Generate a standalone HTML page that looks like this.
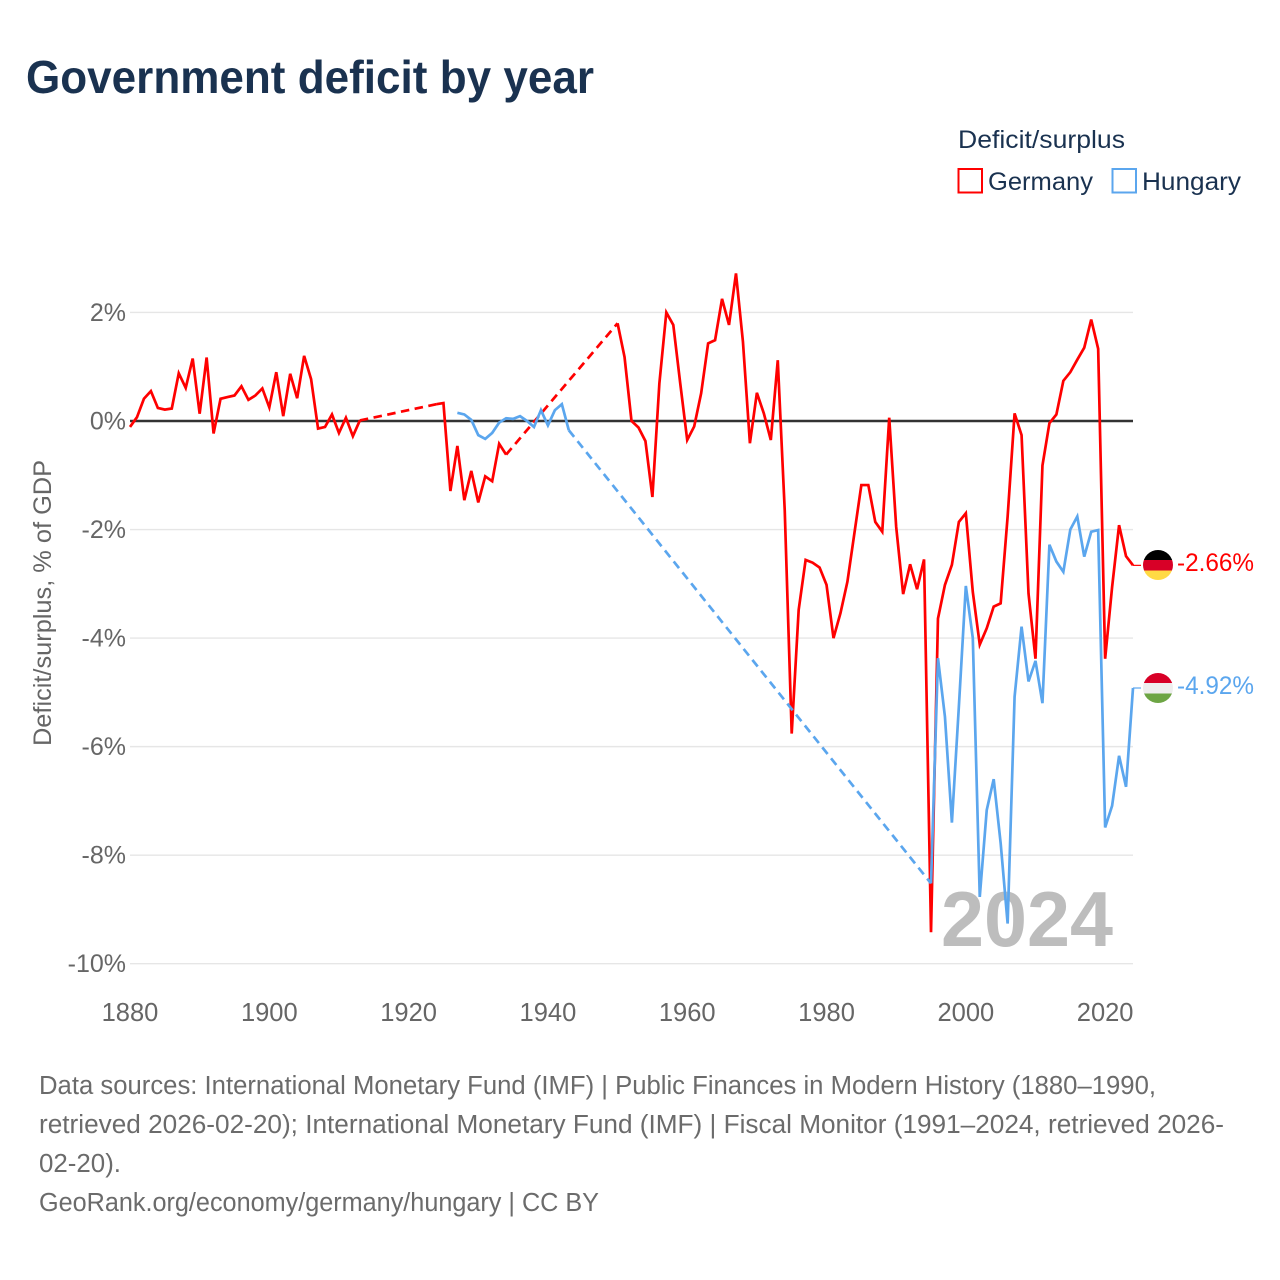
<!DOCTYPE html>
<html lang="en">
<head>
<meta charset="utf-8">
<title>Government deficit by year</title>
<style>
  html,body{margin:0;padding:0;background:#fff;}
  svg{display:block;}
  text{font-family:"Liberation Sans",sans-serif;}
</style>
</head>
<body>
<svg id="chart" xmlns="http://www.w3.org/2000/svg" width="1280" height="1280" viewBox="0 0 1280 1280">
  <defs>
    <clipPath id="clip-de"><circle cx="1158" cy="565" r="15"/></clipPath>
    <clipPath id="clip-hu"><circle cx="1158" cy="688" r="15"/></clipPath>
  </defs>
  <rect x="0" y="0" width="1280" height="1280" fill="#fff"/>
  <text x="26" y="93" font-size="46" font-weight="700" fill="#1a3250" textLength="568" lengthAdjust="spacingAndGlyphs">Government deficit by year</text>

  <g>
    <text x="958" y="148" font-size="25" fill="#1a3250" textLength="167" lengthAdjust="spacingAndGlyphs">Deficit/surplus</text>
    <rect x="958.5" y="169" width="23.5" height="23.5" fill="none" stroke="#ff0000" stroke-width="2"/>
    <text x="988" y="190" font-size="25" fill="#1a3250" textLength="105" lengthAdjust="spacingAndGlyphs">Germany</text>
    <rect x="1112.5" y="169" width="23.5" height="23.5" fill="none" stroke="#5ba6ee" stroke-width="2"/>
    <text x="1142" y="190" font-size="25" fill="#1a3250" textLength="99" lengthAdjust="spacingAndGlyphs">Hungary</text>
  </g>

  <g id="grid"></g>
  <text x="941" y="946" font-size="78" font-weight="700" fill="#bdbdbd" textLength="172" lengthAdjust="spacingAndGlyphs">2024</text>
  <g id="ticks"></g>
  <text transform="translate(51,746) rotate(-90)" x="0" y="0" font-size="25" fill="#666666" textLength="286" lengthAdjust="spacingAndGlyphs">Deficit/surplus, % of GDP</text>
  <g id="zero-holder"></g>
  <g id="series"></g>

  <g clip-path="url(#clip-de)">
    <rect x="1143" y="550" width="30" height="10" fill="#000000"/>
    <rect x="1143" y="560" width="30" height="10.5" fill="#d80027"/>
    <rect x="1143" y="570.5" width="30" height="10" fill="#ffda44"/>
  </g>
  <g clip-path="url(#clip-hu)">
    <rect x="1143" y="673" width="30" height="10" fill="#d80027"/>
    <rect x="1143" y="683" width="30" height="10.5" fill="#eeeeee"/>
    <rect x="1143" y="693.5" width="30" height="10" fill="#6da544"/>
  </g>
  <text id="label-de" x="1177" y="571" font-size="25" fill="#ff0000" textLength="77" lengthAdjust="spacingAndGlyphs"></text>
  <text id="label-hu" x="1177" y="694" font-size="25" fill="#5ba6ee" textLength="77" lengthAdjust="spacingAndGlyphs"></text>

  <g font-size="25.5" fill="#6b6b6b">
    <text x="39" y="1094" textLength="1117" lengthAdjust="spacingAndGlyphs">Data sources: International Monetary Fund (IMF) | Public Finances in Modern History (1880–1990,</text>
    <text x="39" y="1133" textLength="1185" lengthAdjust="spacingAndGlyphs">retrieved 2026-02-20); International Monetary Fund (IMF) | Fiscal Monitor (1991–2024, retrieved 2026-</text>
    <text x="39" y="1172" textLength="82" lengthAdjust="spacingAndGlyphs">02-20).</text>
    <text x="39" y="1211" textLength="560" lengthAdjust="spacingAndGlyphs">GeoRank.org/economy/germany/hungary | CC BY</text>
  </g>
</svg>
<script>
const xTicks = [1880, 1900, 1920, 1940, 1960, 1980, 2000, 2020];
const yTicks = [2, 0, -2, -4, -6, -8, -10];
const germanyYears = [1880,1881,1882,1883,1884,1885,1886,1887,1888,1889,1890,1891,1892,1893,1894,1895,1896,1897,1898,1899,1900,1901,1902,1903,1904,1905,1906,1907,1908,1909,1910,1911,1912,1913,
  1924,1925,1926,1927,1928,1929,1930,1931,1932,1933,1934,
  1950,1951,1952,1953,1954,1955,1956,1957,1958,1959,1960,1961,1962,1963,1964,1965,1966,1967,1968,1969,1970,1971,1972,1973,1974,1975,1976,1977,1978,1979,1980,1981,1982,1983,1984,1985,1986,1987,1988,1989,1990,1991,1992,1993,1994,1995,1996,1997,1998,1999,2000,2001,2002,2003,2004,2005,2006,2007,2008,2009,2010,2011,2012,2013,2014,2015,2016,2017,2018,2019,2020,2021,2022,2023,2024];
const germanyValues = [-0.11,0.07,0.41,0.55,0.24,0.21,0.23,0.88,0.61,1.15,0.135,1.17,-0.23,0.41,0.44,0.47,0.64,0.39,0.47,0.60,0.25,0.90,0.09,0.87,0.42,1.20,0.77,-0.14,-0.11,0.12,-0.22,0.06,-0.28,0.01,
  0.31,0.33,-1.29,-0.46,-1.46,-0.92,-1.50,-1.02,-1.11,-0.42,-0.62,
  1.80,1.18,0,-0.12,-0.37,-1.40,0.69,2.00,1.77,0.69,-0.35,-0.10,0.51,1.43,1.49,2.25,1.77,2.72,1.46,-0.41,0.52,0.14,-0.35,1.12,-1.65,-5.76,-3.48,-2.56,-2.61,-2.70,-3.02,-4.00,-3.54,-2.96,-2.07,-1.18,-1.18,-1.86,-2.04,0.06,-1.95,-3.19,-2.64,-3.10,-2.55,-9.42,-3.64,-3.02,-2.65,-1.86,-1.70,-3.15,-4.12,-3.82,-3.42,-3.36,-1.76,0.14,-0.26,-3.18,-4.38,-0.82,-0.04,0.12,0.74,0.90,1.13,1.35,1.87,1.33,-4.38,-3.06,-1.92,-2.49,-2.66];
const hungaryYears = [1927,1928,1929,1930,1931,1932,1933,1934,1935,1936,1937,1938,1939,1940,1941,1942,1943,
  1995,1996,1997,1998,1999,2000,2001,2002,2003,2004,2005,2006,2007,2008,2009,2010,2011,2012,2013,2014,2015,2016,2017,2018,2019,2020,2021,2022,2023,2024];
const hungaryValues = [0.15,0.12,0.02,-0.26,-0.33,-0.22,-0.03,0.05,0.04,0.09,0,-0.11,0.20,-0.08,0.20,0.31,-0.17,
  -8.52,-4.37,-5.45,-7.40,-5.26,-3.04,-4.00,-8.77,-7.17,-6.60,-7.78,-9.26,-5.08,-3.79,-4.80,-4.42,-5.20,-2.28,-2.59,-2.78,-2.00,-1.76,-2.50,-2.04,-2.01,-7.49,-7.09,-6.17,-6.74,-4.92];
const endLabelGermany = -2.66;
const endLabelHungary = -4.92;

const NS = 'http://www.w3.org/2000/svg';
const xMinYear = 1880, xMaxYear = 2024, xLeft = 130, xRight = 1133;
const yZero = 421, pxPerUnit = 54.27;
function xScale(year) { return xLeft + (year - xMinYear) * (xRight - xLeft) / (xMaxYear - xMinYear); }
function yScale(v) { return yZero - v * pxPerUnit; }

const gridG = document.getElementById('grid');
const ticksG = document.getElementById('ticks');
yTicks.forEach(function (t) {
  if (t !== 0) {
    const ln = document.createElementNS(NS, 'line');
    
    
    ln.setAttribute('x1', xLeft);
    ln.setAttribute('x2', xRight);
    ln.setAttribute('y1', yScale(t));
    ln.setAttribute('y2', yScale(t));
    ln.setAttribute('stroke', '#e6e6e6');
    ln.setAttribute('stroke-width', '1.4');
    gridG.appendChild(ln);
  }
  const lab = document.createElementNS(NS, 'text');
  
  
  lab.setAttribute('x', 126);
  lab.setAttribute('y', yScale(t) + 8.5);
  lab.setAttribute('text-anchor', 'end');
  lab.setAttribute('font-size', '25');
  lab.setAttribute('fill', '#666666');
  lab.textContent = t + '%';
  ticksG.appendChild(lab);
});
xTicks.forEach(function (t) {
  const lab = document.createElementNS(NS, 'text');
  
  
  lab.setAttribute('x', xScale(t));
  lab.setAttribute('y', 1021);
  lab.setAttribute('text-anchor', 'middle');
  lab.setAttribute('font-size', '25.5');
  lab.setAttribute('fill', '#666666');
  lab.textContent = t;
  ticksG.appendChild(lab);
});

const zeroLine = document.createElementNS(NS, 'line');


zeroLine.setAttribute('x1', xLeft);
zeroLine.setAttribute('x2', xRight);
zeroLine.setAttribute('y1', yScale(0));
zeroLine.setAttribute('y2', yScale(0));
zeroLine.setAttribute('stroke', '#333333');
zeroLine.setAttribute('stroke-width', '2.6');
document.getElementById('zero-holder').appendChild(zeroLine);

const seriesG = document.getElementById('series');
function drawSeries(name, years, values, color) {
  let d = '';
  for (let i = 0; i < years.length; i++) {
    const cmd = (i === 0 || years[i] - years[i - 1] > 1) ? 'M' : 'L';
    d += cmd + xScale(years[i]).toFixed(2) + ' ' + yScale(values[i]).toFixed(2);
    if (i > 0 && years[i] - years[i - 1] > 1) {
      const gap = document.createElementNS(NS, 'path');
      
      
      gap.setAttribute('d', 'M' + xScale(years[i - 1]).toFixed(2) + ' ' + yScale(values[i - 1]).toFixed(2) + 'L' + xScale(years[i]).toFixed(2) + ' ' + yScale(values[i]).toFixed(2));
      gap.setAttribute('fill', 'none');
      gap.setAttribute('stroke', color);
      gap.setAttribute('stroke-width', '2.7');
      gap.setAttribute('stroke-dasharray', '8.5 5.5');
      seriesG.appendChild(gap);
    }
  }
  const path = document.createElementNS(NS, 'path');
  
  
  path.setAttribute('d', d);
  path.setAttribute('fill', 'none');
  path.setAttribute('stroke', color);
  path.setAttribute('stroke-width', '2.7');
  path.setAttribute('stroke-linejoin', 'miter');
  seriesG.appendChild(path);
  const last = values[values.length - 1];
  const conn = document.createElementNS(NS, 'line');
  
  
  conn.setAttribute('x1', xRight);
  conn.setAttribute('x2', xRight + 8);
  conn.setAttribute('y1', yScale(last));
  conn.setAttribute('y2', yScale(last));
  conn.setAttribute('stroke', color);
  conn.setAttribute('stroke-width', '1.2');
  seriesG.appendChild(conn);
}
drawSeries('germany', germanyYears, germanyValues, '#ff0000');
drawSeries('hungary', hungaryYears, hungaryValues, '#5ba6ee');

document.getElementById('label-de').textContent = endLabelGermany.toFixed(2) + '%';
document.getElementById('label-hu').textContent = endLabelHungary.toFixed(2) + '%';
</script>
</body>
</html>
